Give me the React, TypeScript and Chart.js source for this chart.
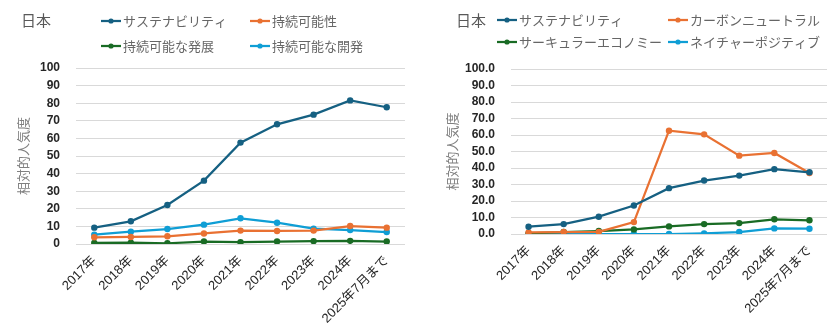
import React, { useEffect, useRef } from "react";
import { Chart, registerables } from "chart.js";

Chart.register(...registerables);

const years = ["2017年", "2018年", "2019年", "2020年", "2021年", "2022年", "2023年", "2024年", "2025年7月まで"];

// Left chart
const leftLabels = ["サステナビリティ", "持続可能性", "持続可能な発展", "持続可能な開発"];
const leftSustainability = [9.3, 12.9, 22.2, 36.0, 57.6, 68.0, 73.5, 81.6, 77.7];
const leftJizoku = [3.8, 4.0, 4.4, 6.0, 7.6, 7.4, 7.6, 10.2, 9.3];
const leftHatten = [0.6, 0.8, 0.4, 1.4, 1.0, 1.4, 1.6, 1.8, 1.4];
const leftKaihatsu = [5.3, 7.0, 8.5, 11.0, 14.6, 12.1, 8.7, 7.9, 6.8];

// Right chart
const rightLabels = ["サステナビリティ", "カーボンニュートラル", "サーキュラーエコノミー", "ネイチャーポジティブ"];
const rightSustainability = [4.4, 6.0, 10.5, 17.3, 27.8, 32.4, 35.4, 39.3, 37.4];
const rightCarbon = [1.0, 1.2, 1.3, 7.2, 62.6, 60.4, 47.5, 49.1, 37.0];
const rightCircular = [0.4, 1.2, 1.8, 2.8, 4.6, 6.0, 6.6, 8.9, 8.3];
const rightNature = [0.0, 0.1, 0.0, 0.0, 0.0, 0.4, 1.2, 3.4, 3.2];

const colors = ["#156082", "#E97132", "#196B24", "#0F9ED5"];

const TITLE = "日本";
const AXIS_TITLE = "相対的人気度";

const SANS = '"Liberation Sans", "Noto Sans CJK JP", sans-serif';
const CJK = '"Noto Sans CJK JP", sans-serif';

const headerPlugin = {
  id: "header",
  afterDraw(chart: any, _args: any, opts: any) {
    const ctx = chart.ctx;
    ctx.save();
    ctx.textBaseline = "middle";
    ctx.textAlign = "left";
    ctx.fillStyle = "#595959";
    ctx.font = `15px ${CJK}`;
    ctx.fillText(opts.title, opts.titleX, opts.titleY);
    ctx.font = `13px ${CJK}`;
    chart.data.datasets.forEach((ds: any, i: number) => {
      const x = opts.cols[i % 2];
      const y = opts.rows[Math.floor(i / 2)];
      ctx.strokeStyle = ds.borderColor;
      ctx.lineWidth = 2.25;
      ctx.beginPath();
      ctx.moveTo(x, y);
      ctx.lineTo(x + 20, y);
      ctx.stroke();
      ctx.fillStyle = ds.borderColor;
      ctx.beginPath();
      ctx.arc(x + 10, y, 2.6, 0, Math.PI * 2);
      ctx.fill();
      ctx.fillStyle = "#666666";
      ctx.fillText(ds.label, x + 22, y);
    });
    ctx.restore();
  },
};

function makeConfig(
  labels: string[],
  series: number[][],
  opts: { yWidth: number; xHeight: number; padRight: number; padTop: number; decimals: number; header: any; titlePad: number }
): any {
  return {
    type: "line",
    data: {
      labels: years,
      datasets: series.map((d, i) => ({
        label: labels[i],
        data: d,
        borderColor: colors[i],
        backgroundColor: colors[i],
        borderWidth: 2.25,
        pointRadius: 3.2,
        pointBorderWidth: 0,
        pointBackgroundColor: colors[i],
        tension: 0,
      })),
    },
    options: {
      responsive: false,
      animation: false,
      devicePixelRatio: 1,
      layout: { padding: { left: 0, right: opts.padRight, top: opts.padTop, bottom: 0 } },
      plugins: {
        legend: { display: false },
        tooltip: { enabled: false },
        title: { display: false },
        header: opts.header,
      },
      scales: {
        x: {
          offset: true,
          grid: { display: false, drawTicks: false },
          border: { display: false },
          ticks: {
            autoSkip: false,
            maxRotation: 45,
            minRotation: 45,
            padding: 9,
            color: "#262626",
            font: { family: SANS, size: 13 },
          },
          afterFit: (s: any) => {
            s.height = opts.xHeight;
          },
        },
        y: {
          min: 0,
          max: 100,
          grid: { color: "#d9d9d9", lineWidth: 1, drawTicks: false },
          border: { display: false },
          ticks: {
            stepSize: 10,
            autoSkip: false,
            padding: 16,
            color: "#262626",
            font: { family: SANS, size: 12, weight: "bold" },
            callback: (v: any) => Number(v).toFixed(opts.decimals),
          },
          title: {
            display: true,
            text: AXIS_TITLE,
            color: "#808080",
            font: { family: CJK, size: 13 },
            padding: { top: opts.titlePad, bottom: 0 },
          },
          afterFit: (s: any) => {
            s.width = opts.yWidth;
          },
        },
      },
    },
    plugins: [headerPlugin],
  };
}

function ChartBox({ config }: { config: any }) {
  const ref = useRef<HTMLCanvasElement>(null);
  useEffect(() => {
    if (!ref.current) return;
    const chart = new Chart(ref.current, config);
    return () => chart.destroy();
  }, [config]);
  return <canvas ref={ref} width={420} height={334} style={{ display: "block", width: 420, height: 334 }} />;
}

const leftConfig = makeConfig(leftLabels, [leftSustainability, leftJizoku, leftHatten, leftKaihatsu], {
  yWidth: 76,
  xHeight: 90,
  padRight: 15,
  padTop: 68,
  decimals: 0,
  titlePad: 15,
  header: { title: TITLE, titleX: 21, titleY: 20, cols: [101, 250], rows: [21, 46] },
});

const rightConfig = makeConfig(rightLabels, [rightSustainability, rightCarbon, rightCircular, rightNature], {
  yWidth: 91,
  xHeight: 100,
  padRight: 13,
  padTop: 69,
  decimals: 1,
  titlePad: 24,
  header: { title: TITLE, titleX: 36, titleY: 20, cols: [77, 248], rows: [20, 42] },
});

export default function App() {
  return (
    <div style={{ position: "fixed", left: 0, top: 0, width: 840, height: 334, display: "flex", background: "#fff" }}>
      <ChartBox config={leftConfig} />
      <ChartBox config={rightConfig} />
    </div>
  );
}
